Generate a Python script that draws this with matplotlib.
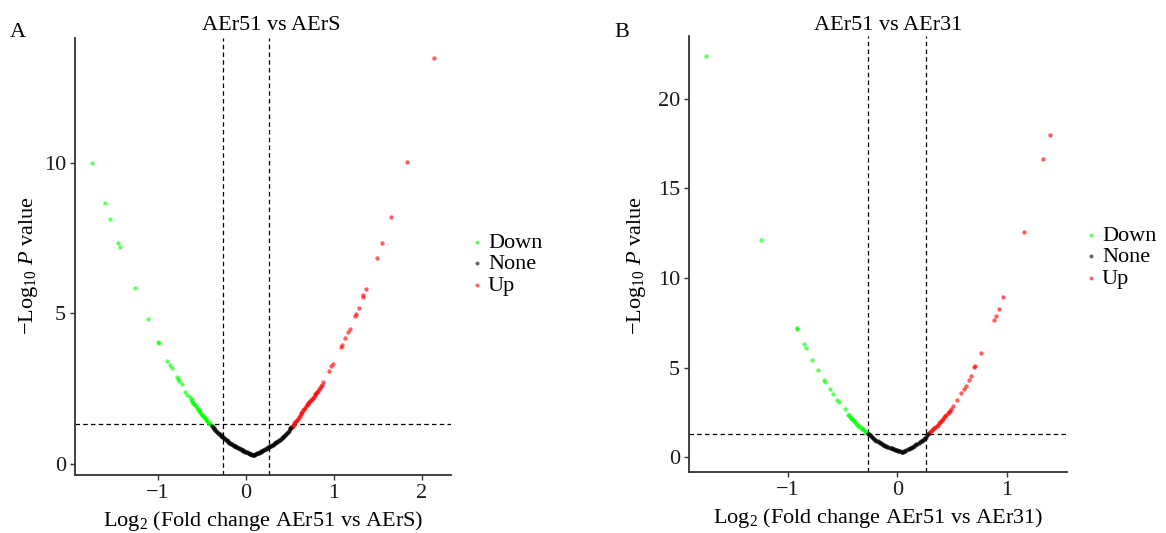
import matplotlib
matplotlib.use('Agg')
import matplotlib.pyplot as plt

plt.rcParams['font.family'] = ['Liberation Serif', 'DejaVu Serif']
plt.rcParams['mathtext.fontset'] = 'custom'
plt.rcParams['mathtext.rm'] = 'Liberation Serif'
plt.rcParams['mathtext.it'] = 'Liberation Serif:italic'

# ---------------- Panel A: AEr51 vs AErS ----------------
a_title = "AEr51 vs AErS"
a_xlabel = "Log$_2$ (Fold change AEr51 vs AErS)"
a_down_x = [-1.751, -1.609, -1.548, -1.458, -1.439, -1.262, -1.119, -1.000, -0.994,
            -0.895, -0.864, -0.845, -0.788, -0.777, -0.759, -0.732, -0.694, -0.668,
            -0.64, -0.63, -0.62, -0.61, -0.60, -0.59, -0.58, -0.57, -0.56, -0.55,
            -0.54, -0.53, -0.52, -0.51, -0.50, -0.49, -0.48, -0.47, -0.46, -0.45,
            -0.44, -0.43, -0.42, -0.41, -0.40]
a_down_y = [10.00, 8.69, 8.13, 7.35, 7.22, 5.83, 4.81, 4.04, 4.02,
            3.41, 3.28, 3.17, 2.89, 2.81, 2.75, 2.64, 2.39, 2.28,
            2.20, 2.15, 2.11, 2.06, 2.02, 1.98, 1.94, 1.90, 1.86, 1.82,
            1.78, 1.74, 1.70, 1.66, 1.63, 1.59, 1.56, 1.52, 1.49, 1.45,
            1.42, 1.38, 1.35, 1.31, 1.28]
a_none_x = [-0.39, -0.38, -0.37, -0.36, -0.35, -0.34, -0.33, -0.32, -0.31, -0.30,
            -0.29, -0.28, -0.27, -0.26, -0.25, -0.24, -0.23, -0.22, -0.21, -0.20,
            -0.19, -0.18, -0.17, -0.16, -0.15, -0.14, -0.13, -0.12, -0.11, -0.10,
            -0.09, -0.08, -0.07, -0.06, -0.05, -0.04, -0.03, -0.02, -0.01, 0.00,
            0.01, 0.02, 0.03, 0.04, 0.05, 0.06, 0.07, 0.08, 0.087,
            0.095, 0.105, 0.115, 0.125, 0.135, 0.145, 0.155, 0.165, 0.175, 0.185,
            0.195, 0.205, 0.215, 0.225, 0.235, 0.245, 0.255, 0.265, 0.275, 0.285,
            0.295, 0.305, 0.315, 0.325, 0.335, 0.345, 0.355, 0.365, 0.375, 0.385,
            0.395, 0.405, 0.415, 0.425, 0.435, 0.445, 0.455, 0.465, 0.475, 0.485,
            0.495, 0.505, 0.515, 0.522]
a_none_y = [1.24, 1.21, 1.18, 1.15, 1.12, 1.09, 1.06, 1.03, 1.00, 0.97,
            0.95, 0.92, 0.89, 0.87, 0.84, 0.82, 0.79, 0.77, 0.75, 0.72,
            0.70, 0.68, 0.66, 0.64, 0.62, 0.60, 0.58, 0.57, 0.55, 0.54,
            0.52, 0.51, 0.49, 0.48, 0.46, 0.44, 0.43, 0.41, 0.40, 0.38,
            0.37, 0.36, 0.34, 0.33, 0.32, 0.31, 0.30, 0.29, 0.28,
            0.29, 0.305, 0.32, 0.335, 0.35, 0.365, 0.38, 0.395, 0.41, 0.425,
            0.44, 0.455, 0.47, 0.49, 0.505, 0.52, 0.54, 0.555, 0.57, 0.59,
            0.61, 0.63, 0.65, 0.67, 0.69, 0.71, 0.73, 0.75, 0.77, 0.79,
            0.82, 0.845, 0.87, 0.90, 0.93, 0.96, 0.99, 1.03, 1.06, 1.10,
            1.14, 1.17, 1.21, 1.23]
a_up_x = [0.53, 0.54, 0.55, 0.56, 0.57, 0.58, 0.59, 0.60, 0.61, 0.62, 0.63, 0.64,
          0.65, 0.66, 0.67, 0.68, 0.69, 0.70, 0.71, 0.72, 0.73, 0.74, 0.75, 0.76,
          0.77, 0.78, 0.79, 0.80, 0.81, 0.82, 0.83, 0.84, 0.85, 0.86, 0.872,
          0.948, 0.967, 0.993, 1.08, 1.09, 1.129, 1.163, 1.178, 1.242, 1.254,
          1.280, 1.329, 1.336, 1.363, 1.491, 1.548, 1.646, 1.831, 2.137]
a_up_y = [1.26, 1.30, 1.34, 1.38, 1.42, 1.46, 1.50, 1.55, 1.59, 1.64, 1.68, 1.73,
          1.77, 1.82, 1.86, 1.90, 1.94, 1.98, 2.02, 2.06, 2.09, 2.13, 2.16, 2.19,
          2.23, 2.27, 2.31, 2.35, 2.39, 2.43, 2.48, 2.52, 2.57, 2.62, 2.70,
          3.09, 3.24, 3.33, 3.87, 3.94, 4.17, 4.37, 4.47, 4.91, 4.99,
          5.19, 5.55, 5.60, 5.80, 6.83, 7.33, 8.22, 10.04, 13.51]
a_xticks = [-1, 0, 1, 2]
a_yticks = [0, 5, 10]

# ---------------- Panel B: AEr51 vs AEr31 ----------------
b_title = "AEr51 vs AEr31"
b_xlabel = "Log$_2$ (Fold change AEr51 vs AEr31)"
b_down_x = [-1.746, -1.245, -0.919, -0.912, -0.852, -0.830, -0.776, -0.724, -0.672,
            -0.657, -0.614, -0.583, -0.547, -0.535, -0.48, -0.452, -0.445, -0.435,
            -0.425, -0.415, -0.405, -0.395, -0.385, -0.375, -0.365, -0.355, -0.345,
            -0.335, -0.325, -0.315, -0.305, -0.295, -0.285, -0.275]
b_down_y = [22.38, 12.11, 7.21, 7.15, 6.33, 6.09, 5.44, 4.89, 4.33,
            4.18, 3.79, 3.53, 3.20, 3.10, 2.70, 2.38, 2.33, 2.26,
            2.19, 2.13, 2.06, 2.00, 1.94, 1.88, 1.82, 1.77, 1.71,
            1.66, 1.60, 1.55, 1.50, 1.45, 1.40, 1.35]
b_none_x = [-0.27, -0.26, -0.25, -0.24, -0.23, -0.22, -0.21, -0.20, -0.19, -0.18,
            -0.17, -0.16, -0.15, -0.14, -0.13, -0.12, -0.11, -0.10, -0.09, -0.08,
            -0.07, -0.06, -0.05, -0.04, -0.03, -0.02, -0.01, 0.00, 0.01, 0.02,
            0.03, 0.04, 0.046, 0.055, 0.065, 0.075, 0.085, 0.095, 0.105, 0.115,
            0.125, 0.135, 0.145, 0.155, 0.165, 0.175, 0.185, 0.195, 0.205, 0.215,
            0.225, 0.235, 0.245, 0.255, 0.265, 0.275, 0.285, 0.29]
b_none_y = [1.32, 1.27, 1.22, 1.17, 1.12, 1.07, 1.02, 0.97, 0.92, 0.88,
            0.84, 0.80, 0.77, 0.73, 0.70, 0.67, 0.64, 0.61, 0.58, 0.555,
            0.53, 0.51, 0.49, 0.465, 0.44, 0.42, 0.40, 0.38, 0.36, 0.34,
            0.32, 0.30, 0.28, 0.30, 0.33, 0.36, 0.395, 0.43, 0.46, 0.49,
            0.525, 0.56, 0.595, 0.63, 0.67, 0.71, 0.75, 0.79, 0.835, 0.88,
            0.93, 0.98, 1.03, 1.09, 1.15, 1.22, 1.29, 1.33]
b_up_x = [0.30, 0.31, 0.32, 0.33, 0.34, 0.35, 0.36, 0.37, 0.38, 0.39, 0.40, 0.41,
          0.42, 0.43, 0.44, 0.45, 0.46, 0.47, 0.48, 0.488,
          0.513, 0.55, 0.586, 0.61, 0.632, 0.656, 0.671, 0.705, 0.710, 0.766,
          0.885, 0.90, 0.928, 0.971, 1.16, 1.337, 1.395]
b_up_y = [1.40, 1.46, 1.52, 1.58, 1.64, 1.70, 1.76, 1.82, 1.88, 1.95, 2.01, 2.08,
          2.15, 2.22, 2.29, 2.37, 2.44, 2.52, 2.59, 2.66,
          2.88, 3.21, 3.59, 3.81, 3.99, 4.33, 4.51, 5.03, 5.06, 5.81,
          7.63, 7.86, 8.27, 8.93, 12.56, 16.60, 17.98]
b_xticks = [-1, 0, 1]
b_yticks = [0, 5, 10, 15, 20]

fc_cut = 0.263
p_cut = 1.301
ylabel = "\u2212Log$_{10}$ $P$ value"

W, H = 1166, 533
fig = plt.figure(figsize=(W / 100, H / 100), dpi=100)


def panel(rect, title, xlabel, dx, dy, nx, ny, ux, uy, xt, yt, letter, letter_pos,
          title_x, leg_anchor, ylab_coords):
    ax = fig.add_axes(rect)
    dash = (0, (3.6, 2.6))
    ax.axvline(-fc_cut, color='black', lw=0.9, ls=dash, zorder=1)
    ax.axvline(fc_cut, color='black', lw=0.9, ls=dash, zorder=1)
    ax.axhline(p_cut, color='black', lw=0.9, ls=dash, zorder=1)
    s = 10
    ax.scatter(dx, dy, s=s, c='#00ff00', alpha=0.62, lw=0, label='Down', zorder=3)
    ax.scatter(nx, ny, s=s, c='black', alpha=0.62, lw=0, label='None', zorder=3)
    ax.scatter(ux, uy, s=s, c='#ff0000', alpha=0.62, lw=0, label='Up', zorder=3)
    ax.margins(0.05)
    ax.set_xticks(xt)
    ax.set_yticks(yt)
    for sp in ['top', 'right']:
        ax.spines[sp].set_visible(False)
    for sp in ['left', 'bottom']:
        ax.spines[sp].set_color('#333333')
        ax.spines[sp].set_linewidth(1.3)
    ax.tick_params(direction='out', length=3.5, width=1.0, color='#333333',
                   labelsize=16, labelcolor='#1a1a1a', pad=3)
    ax.set_xlabel(xlabel, fontsize=16, labelpad=4)
    ax.set_ylabel(ylabel, fontsize=16)
    ax.yaxis.set_label_coords(*ylab_coords)
    fig.text(title_x, 1 - 30 / H, title, fontsize=16, ha='center', va='baseline')
    fig.text(letter_pos[0], letter_pos[1], letter, fontsize=16, ha='left', va='baseline')
    ax.legend(loc='center left', bbox_to_anchor=leg_anchor, bbox_transform=fig.transFigure,
              frameon=False, fontsize=16, handletextpad=0.1, labelspacing=0.05,
              handlelength=0.8, borderpad=0, borderaxespad=0, markerscale=0.9)
    return ax


panel([75 / W, 1 - 475 / H, (451 - 75) / W, (475 - 38) / H], a_title, a_xlabel,
      a_down_x, a_down_y, a_none_x, a_none_y, a_up_x, a_up_y, a_xticks, a_yticks,
      'A', (10 / W, 1 - 37 / H), 271 / W, (468 / W, 1 - 264 / H),
      ((40 - 75) / 376, (475 - 266) / 437))
panel([689 / W, 1 - 472 / H, (1067 - 689) / W, (472 - 36) / H], b_title, b_xlabel,
      b_down_x, b_down_y, b_none_x, b_none_y, b_up_x, b_up_y, b_xticks, b_yticks,
      'B', (614 / W, 1 - 37 / H), 888 / W, (1082 / W, 1 - 257 / H),
      ((648 - 689) / 378, (472 - 266) / 436))

fig.savefig('out.png', dpi=100)
